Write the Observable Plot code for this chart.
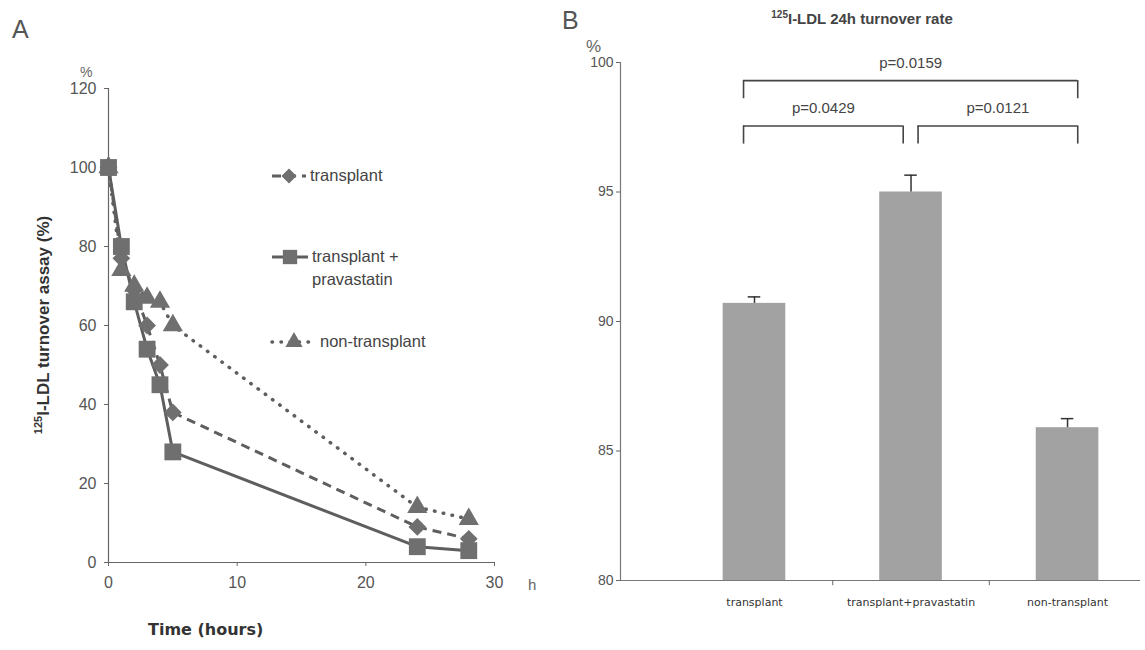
<!DOCTYPE html>
<html><head><meta charset="utf-8">
<script src="https://cdn.jsdelivr.net/npm/d3@7"></script>
<script src="https://cdn.jsdelivr.net/npm/@observablehq/plot@0.6"></script>
<style>
body{margin:0;background:#fff;}
#wrap{position:relative;width:1145px;height:650px;font-family:"Liberation Sans",Arial,sans-serif;color:#444;overflow:hidden;background:#fff}
.abs{position:absolute;white-space:nowrap;line-height:1}
.abs svg{overflow:visible}
</style></head><body><div id="wrap"></div>
<script>
// ---- Panel A data ----
const hours = [0, 1, 2, 3, 4, 5, 24, 28];
const transplant = [100, 77, 69, 60, 50, 38, 9, 6];
const transplantPravastatin = [100, 80, 66, 54, 45, 28, 4, 3];
const nonTransplant = [100, 74, 70, 67, 66, 60, 14, 11];
const seriesNames = ["transplant", "transplant + pravastatin", "non-transplant"];
const xTicksA = [0, 10, 20, 30];
const yTicksA = [0, 20, 40, 60, 80, 100, 120];

// ---- Panel B data ----
const groups = ["transplant", "transplant+pravastatin", "non-transplant"];
const turnover = [90.7, 95.0, 85.9];
const turnoverSE = [0.25, 0.65, 0.35];
const compareFrom = [0, 1, 0];
const compareTo = [1, 2, 2];
const compareP = ["p=0.0429", "p=0.0121", "p=0.0159"];
const bracketLevel = [97.55, 97.55, 99.3];
const yTicksB = [80, 85, 90, 95, 100];

const wrap = document.getElementById("wrap");
function place(el, left, top) {
  const d = document.createElement("div");
  d.className = "abs"; d.style.left = left + "px"; d.style.top = top + "px";
  if (typeof el === "string") d.innerHTML = el; else d.appendChild(el);
  wrap.appendChild(d); return d;
}

const seriesArrays = [transplant, transplantPravastatin, nonTransplant];
const rowsA = [];
seriesArrays.forEach((arr, s) => hours.forEach((h, i) => rowsA.push({series: seriesNames[s], hour: h, value: arr[i]})));
const styleA = {
  "transplant": {dash: "9,6", symbol: "diamond2", r: 8, cap: "butt"},
  "transplant + pravastatin": {dash: null, symbol: "square", r: 9.5, cap: "butt"},
  "non-transplant": {dash: "0.5,8.5", symbol: "triangle", r: 7.5, cap: "round"}
};
const lineColor = "#5e5e5e", markColor = "#6f6f6f";

const lineMarks = seriesNames.map(n => Plot.line(rowsA.filter(d => d.series === n), {
  x: "hour", y: "value", stroke: lineColor, strokeWidth: n === "non-transplant" ? 3.5 : 3,
  strokeDasharray: styleA[n].dash, strokeLinecap: styleA[n].cap
}));
const dotOrder = ["non-transplant", "transplant", "transplant + pravastatin"];
const dotMarks = dotOrder.map(n => Plot.dot(rowsA.filter(d => d.series === n), {
  x: "hour", y: "value", symbol: () => styleA[n].symbol, r: styleA[n].r, fill: markColor, stroke: "none"
}));

const plotA = Plot.plot({
  width: 560, height: 650,
  marginLeft: 108, marginRight: 66, marginTop: 88, marginBottom: 88,
  style: {fontFamily: "Liberation Sans, Arial, sans-serif", fontSize: "16px", color: "#555", background: "transparent"},
  x: {domain: [0, 30]},
  y: {domain: [0, 120]},
  symbol: {type: "identity"},
  marks: [
    Plot.axisX({ticks: xTicksA, tickSize: 4, tickPadding: 10, label: null, stroke: "#666"}),
    Plot.axisY({ticks: yTicksA, tickSize: 4, tickPadding: 8, label: null, stroke: "#666"}),
    Plot.ruleX([0], {stroke: "#666", strokeWidth: 1.2}),
    Plot.ruleY([0], {stroke: "#666", strokeWidth: 1.2}),
    ...lineMarks,
    ...dotMarks
  ]
});
place(plotA, 0, 0);

// Panel A texts
place('<span style="font-size:25px;color:#555;font-family:\'Liberation Sans\',Arial">A</span>', 12, 17);
place('<span style="font-size:14px;color:#666">%</span>', 80, 64);
place('<span style="font-size:15px;color:#666">h</span>', 528, 577);
place('<span style="font-size:16px;font-weight:bold;color:#333;font-family:\'DejaVu Sans\',Verdana">Time (hours)</span>', 148, 622);
const ylab = place('<span style="font-size:17px;font-weight:bold;color:#333"><sup style="font-size:11px">125</sup>I-LDL turnover assay (%)</span>', 0, 0);
ylab.style.left = "42px"; ylab.style.top = "325px";
ylab.style.transform = "translate(-50%,-50%) rotate(-90deg)";

// Legend (panel A)
const legendRows = [
  {name: seriesNames[0], lines: ["transplant"], y: 176, w: 38},
  {name: seriesNames[1], lines: ["transplant +", "pravastatin"], y: 257, w: 40},
  {name: seriesNames[2], lines: ["non-transplant"], y: 342, w: 48}
];
const symMap = {diamond2: d3.symbolDiamond2, square: d3.symbolSquare, triangle: d3.symbolTriangle};
legendRows.forEach(row => {
  const st = styleA[row.name];
  const svg = d3.create("svg").attr("width", row.w).attr("height", 20);
  svg.append("line").attr("x1", 2).attr("x2", row.w - 2).attr("y1", 10).attr("y2", 10)
    .attr("stroke", lineColor).attr("stroke-width", row.name === "non-transplant" ? 3.5 : 3)
    .attr("stroke-dasharray", st.dash).attr("stroke-linecap", st.cap);
  const size = Math.PI * (st.r * 0.85) ** 2;
  svg.append("path").attr("d", d3.symbol(symMap[st.symbol], size)()).attr("transform", `translate(${row.w / 2},10)`).attr("fill", markColor);
  place(svg.node(), 270, row.y - 10);
  row.lines.forEach((t, k) => {
    place(`<span style="font-size:16.5px;color:#444">${t}</span>`, 270 + row.w + 2, row.y - 9 + k * 23);
  });
});

// ---- Panel B ----
const xDomB = [-0.856, 2.466];
const barRows = groups.map((g, i) => ({i, g, v: turnover[i], e: turnoverSE[i]}));
const legX = (idx, side) => idx === 1 ? (side === "left" ? idx + 0.045 : idx - 0.05) : (idx === 0 ? idx - 0.07 : idx + 0.065);
const brackets = compareFrom.map((f, k) => {
  const xa = legX(f, "left"), xb = legX(compareTo[k], "right");
  return {xa, xb, xm: (xa + xb) / 2, y: bracketLevel[k], yl: bracketLevel[k] - 0.7, p: compareP[k]};
});
const sepTicks = d3.range(groups.length - 1).map(i => i + 0.5);

const plotB = Plot.plot({
  width: 585, height: 650,
  marginLeft: 60, marginRight: 5, marginTop: 62, marginBottom: 70,
  style: {fontFamily: "Liberation Sans, Arial, sans-serif", fontSize: "14px", color: "#555", background: "transparent"},
  x: {type: "linear", domain: xDomB},
  y: {domain: [80, 100]},
  marks: [
    Plot.axisY({ticks: yTicksB, tickSize: 4, tickPadding: 3, label: null, stroke: "#666"}),
    Plot.axisX({ticks: groups.map((g, i) => i), tickFormat: i => groups[i], tickSize: 0, tickPadding: 18, label: null,
      fontSize: 11, fontFamily: "DejaVu Sans, Verdana, sans-serif", fill: "#333"}),
    Plot.rectY(barRows, {x1: d => d.i - 0.2, x2: d => d.i + 0.2, y1: 80, y2: "v", fill: "#a2a2a2"}),
    Plot.ruleX(barRows, {x: "i", y1: "v", y2: d => d.v + d.e, stroke: "#333", strokeWidth: 1.5}),
    Plot.ruleY(barRows, {x1: d => d.i - 0.04, x2: d => d.i + 0.04, y: d => d.v + d.e, stroke: "#333", strokeWidth: 1.5}),
    Plot.ruleX([xDomB[0]], {stroke: "#777", strokeWidth: 1.2}),
    Plot.ruleY([80], {stroke: "#777", strokeWidth: 1.2}),
    Plot.ruleX(sepTicks, {y1: 80, y2: 79.8, stroke: "#666"}),
    Plot.ruleY(brackets, {x1: "xa", x2: "xb", y: "y", stroke: "#444", strokeWidth: 1.6}),
    Plot.ruleX(brackets, {x: "xa", y1: "y", y2: "yl", stroke: "#444", strokeWidth: 1.6}),
    Plot.ruleX(brackets, {x: "xb", y1: "y", y2: "yl", stroke: "#444", strokeWidth: 1.6}),
    Plot.text(brackets, {x: "xm", y: d => d.y + 0.68, text: "p", fontSize: 15, fill: "#444"})
  ]
});
place(plotB, 560, 0);

place('<span style="font-size:25px;color:#555">B</span>', 562, 8);
place('<span style="font-size:17px;color:#666">%</span>', 586, 38);
place('<span style="font-size:15px;font-weight:bold;color:#444"><sup style="font-size:10px">125</sup>I-LDL 24h turnover rate</span>', 0, 0).style.cssText += "left:862px;top:10px;transform:translateX(-50%);";
</script></body></html>
